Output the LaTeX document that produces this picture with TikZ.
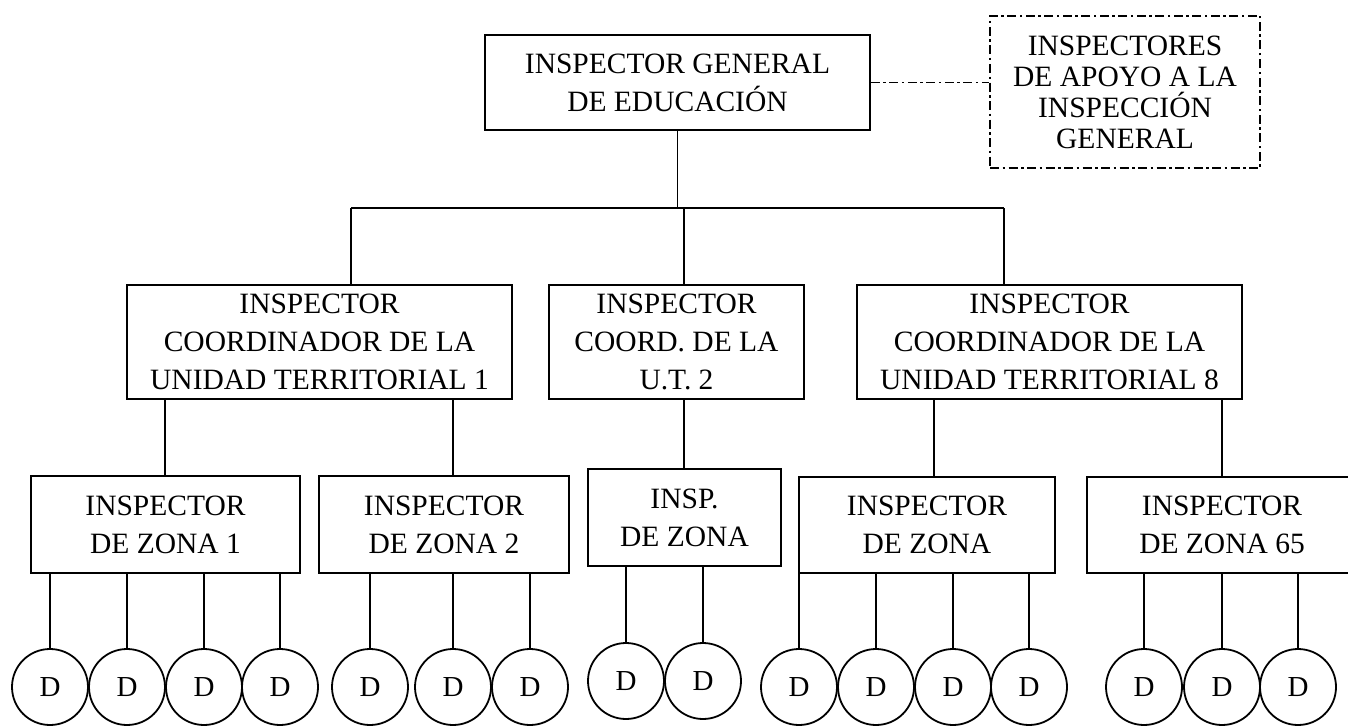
\documentclass[tikz,border=0pt]{standalone}
\usepackage{fontspec}
\setmainfont{Liberation Serif}
\begin{document}
\begin{tikzpicture}[x=1pt,y=-1pt,
  box/.style={draw, line width=1.8pt, rectangle, inner sep=0pt, align=center,
    font=\fontsize{29.5}{38}\selectfont},
  dbox/.style={box, dash pattern=on 9pt off 3.5pt on 2.5pt off 3.5pt,
    font=\fontsize{29.5}{31}\selectfont},
  dnode/.style={draw, circle, line width=1.8pt, minimum size=76pt, inner sep=0pt,
    font=\fontsize{29}{30}\selectfont},
  conn/.style={line width=1.8pt},
  dconn/.style={line width=1.8pt, dash pattern=on 9pt off 3.5pt on 2.5pt off 3.5pt}]
\useasboundingbox (0,0) rectangle (1348,725);
\clip (0,0) rectangle (1348,725);
% top level
\node[box, minimum width=385pt, minimum height=95pt] (top) at (677.5,82.5)
  {INSPECTOR GENERAL\\DE EDUCACIÓN};
\node[dbox, minimum width=270pt, minimum height=152pt] (apoyo) at (1125,92)
  {INSPECTORES\\DE APOYO A LA\\INSPECCIÓN\\GENERAL};
\draw[dconn] (top.east) -- (apoyo.west |- top.east);
% coordinators
\node[box, minimum width=385pt, minimum height=114pt] (c1) at (319.5,342)
  {INSPECTOR\\COORDINADOR DE LA\\UNIDAD TERRITORIAL 1};
\node[box, minimum width=255pt, minimum height=114pt] (c2) at (676.5,342)
  {INSPECTOR\\COORD. DE LA\\U.T. 2};
\node[box, minimum width=385pt, minimum height=114pt] (c3) at (1049.5,342)
  {INSPECTOR\\COORDINADOR DE LA\\UNIDAD TERRITORIAL 8};
\coordinate (bL) at (351,208);
\coordinate (bM) at (684,208);
\coordinate (bR) at (1004,208);
\draw[conn] (top.south) -- (top.south |- bL);
\draw[conn] (bL) -- (bR);
\draw[conn] (bL) -- (bL |- c1.north);
\draw[conn] (bM) -- (bM |- c2.north);
\draw[conn] (bR) -- (bR |- c3.north);
% zone inspectors
\node[box, minimum width=269pt, minimum height=97pt] (z1) at (165.5,524.5)
  {INSPECTOR\\DE ZONA 1};
\node[box, minimum width=250pt, minimum height=97pt] (z2) at (444,524.5)
  {INSPECTOR\\DE ZONA 2};
\node[box, minimum width=193pt, minimum height=97pt] (zi) at (684.5,517.5)
  {INSP.\\DE ZONA};
\node[box, minimum width=256pt, minimum height=96pt] (z) at (927,525)
  {INSPECTOR\\DE ZONA};
\node[box, minimum width=270pt, minimum height=96pt] (z65) at (1222,525)
  {INSPECTOR\\DE ZONA 65};
\coordinate (x165) at (165,0);
\coordinate (x453) at (453,0);
\coordinate (x684) at (684,0);
\coordinate (x934) at (934,0);
\coordinate (x1222) at (1222,0);
\draw[conn] (c1.south -| x165) -- (z1.north -| x165);
\draw[conn] (c1.south -| x453) -- (z2.north -| x453);
\draw[conn] (c2.south -| x684) -- (zi.north -| x684);
\draw[conn] (c3.south -| x934) -- (z.north -| x934);
\draw[conn] (c3.south -| x1222) -- (z65.north -| x1222);
% D circles
\foreach \n/\x/\y/\p in {a1/50/687/z1, a2/127/687/z1, a3/204/687/z1, a4/280/687/z1,
    b1/370/687/z2, b2/453/687/z2, b3/530/687/z2,
    c1d/626/681/zi, c2d/703/681/zi,
    e1/799/687/z, e2/876/687/z, e3/953/687/z, e4/1029/687/z,
    f1/1144/687/z65, f2/1222/687/z65, f3/1298/687/z65} {
  \node[dnode] (\n) at (\x,\y) {D};
  \draw[conn] (\n.north) -- (\n.north |- \p.south);
}
\end{tikzpicture}
\end{document}
